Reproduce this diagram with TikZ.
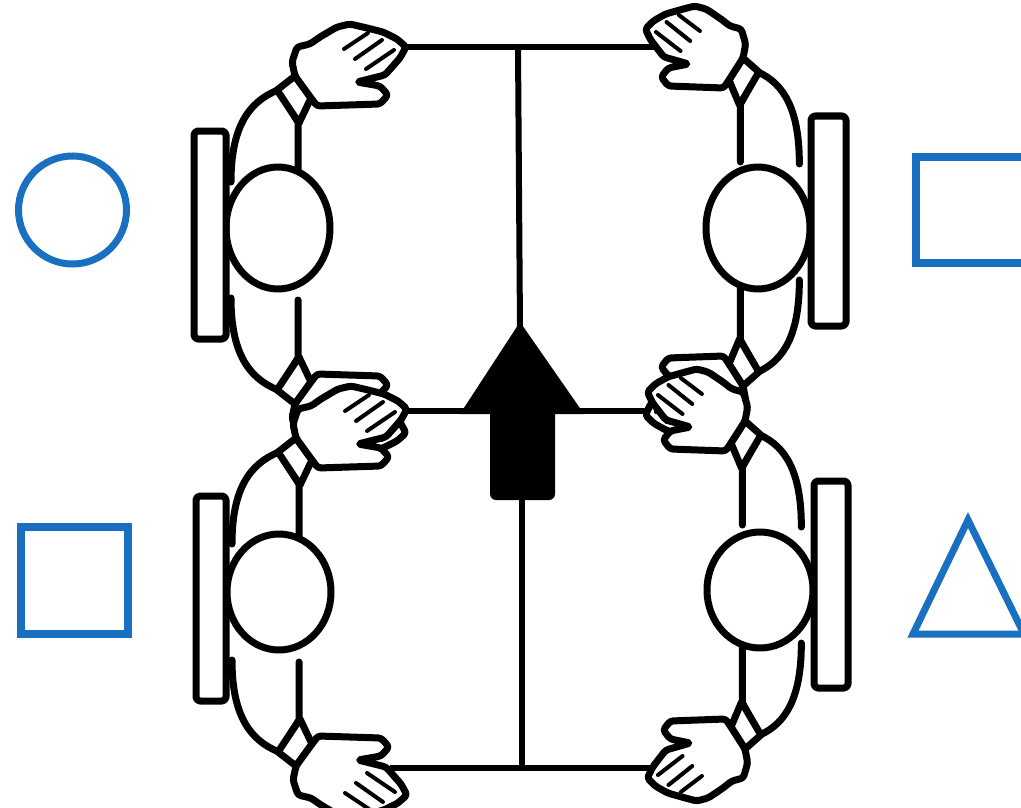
\documentclass[tikz,border=0pt]{standalone}
\usepackage{tikz}
\definecolor{symblue}{RGB}{25,112,192}
\tikzset{
  fig/.style={line width=7pt, line join=round, line cap=round},
  tableline/.style={line width=6pt, line cap=butt},
  symb/.style={draw=symblue, line width=7pt, miter limit=10},
  armpic/.pic={
    % upper arm
    \path[fill=white, draw, fig] (20,-60) -- (20,-118) -- (0,-150) .. controls (-30,-138) and (-47,-112) .. (-47,-58);
    % cuff
    \filldraw[fill=white, fig] (-1,-150) -- (17,-164) -- (33,-142) -- (21,-117) -- cycle;
    % hand
    \filldraw[fill=white, fig, rounded corners=3pt] (33,-142) -- (17,-164) -- (14,-178) -- (19,-193) -- (32,-196)
      -- (42,-203) -- (59,-213) -- (72,-216) -- (89,-212) -- (105,-208) -- (119,-201) -- (128,-193)
      -- (122,-182) -- (107,-165) -- (79,-158) -- (102,-154) -- (110,-145) -- (102,-136) -- (39,-134) -- cycle;
    % fingers
    \draw[line width=4pt, line cap=round] (66,-191) -- (90,-207);
    \draw[line width=4pt, line cap=round] (77,-181) -- (104,-200);
    \draw[line width=4pt, line cap=round] (88,-171) -- (116,-190);
  },
}
\begin{document}
\begin{tikzpicture}[x=1pt,y=-1pt]
\useasboundingbox (0,0) rectangle (1021,808);
% table lines
\coordinate (tl) at (395,47);
\coordinate (tr) at (655,47);
\coordinate (tm) at (518,47);
\coordinate (ml) at (395,411);
\coordinate (mr) at (655,411);
\coordinate (bl) at (390,768);
\coordinate (br) at (655,768);
\coordinate (bm) at (522,768);
\coordinate (apex) at (520,330);
\coordinate (abot) at (522,495);
\draw[tableline] (tl) -- (tr);
\draw[tableline] (ml) -- (mr);
\draw[tableline] (bl) -- (br);
\draw[tableline] (tm) -- (apex);
\draw[tableline] (abot) -- (bm);
% arrow
\fill (460,414) -- (520,322) -- (584,414) -- cycle;
\fill[rounded corners=6pt] (490,395) rectangle (555,500);
% people: arms
\pic at (278,240) {armpic};
\pic[yscale=-1] at (278,240) {armpic};
\pic at (279,602) {armpic};
\pic[yscale=-1] at (279,602) {armpic};
\pic[xscale=-0.88] at (758,222) {armpic};
\pic[xscale=-0.88,yscale=-1] at (758,222) {armpic};
\pic[xscale=-0.88] at (760,585) {armpic};
\pic[xscale=-0.88,yscale=-1] at (760,585) {armpic};
% heads
\filldraw[fill=white, fig] (278,228) ellipse [x radius=52, y radius=61];
\filldraw[fill=white, fig] (279,592) ellipse [x radius=52, y radius=58];
\filldraw[fill=white, fig] (758,228) ellipse [x radius=52, y radius=61];
\filldraw[fill=white, fig] (760,590) ellipse [x radius=53, y radius=58];
% chairs
\filldraw[fill=white, fig, rounded corners=4pt] (194,131) rectangle (226,339);
\filldraw[fill=white, fig, rounded corners=4pt] (196,496) rectangle (226,701);
\filldraw[fill=white, fig, rounded corners=4pt] (811,116) rectangle (846,326);
\filldraw[fill=white, fig, rounded corners=4pt] (814,481) rectangle (848,688);
% symbols
\node[symb, circle, minimum size=108pt, inner sep=0pt] (circ) at (72.5,210) {};
\draw[symb, line width=8pt] (21,527) rectangle (128,634);
\draw[symb, line width=8pt] (916,157) rectangle (1029,263);
\draw[symb] (968,520) -- (1024,634) -- (913,634) -- cycle;
\end{tikzpicture}
\end{document}
